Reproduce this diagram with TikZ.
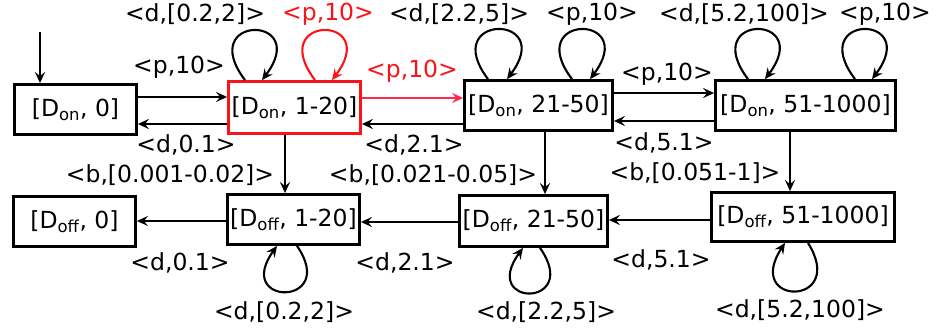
\documentclass[tikz,border=0pt]{standalone}
\usepackage{fontspec}
\setmainfont{DejaVu Sans}
\usetikzlibrary{arrows.meta}
\definecolor{hired}{RGB}{250,20,25}
\definecolor{hiedge}{RGB}{255,40,80}
\newcommand\subx[1]{\textsubscript{#1}}
\tikzset{
  statebox/.style={draw=black,line width=2.8pt,fill=white,inner sep=0pt,font=\fontsize{23.5}{27}\selectfont},
  lbl/.style={font=\fontsize{23.5}{28}\selectfont,inner sep=0pt},
  tr/.style={line width=2.1pt,-{Stealth[length=11pt,width=10pt,inset=4pt]}},
}
\begin{document}
\begin{tikzpicture}[x=1pt,y=-1pt]
\useasboundingbox (0,0) rectangle (936,336);
% states
\node[statebox,minimum width=122pt,minimum height=50pt] (on0) at (75.5,109.5) {[D\subx{on}, 0]};
\node[statebox,draw=hired,minimum width=132pt,minimum height=52pt] (on1) at (294.5,107.5) {[D\subx{on}, 1-20]};
\node[statebox,minimum width=148pt,minimum height=50pt] (on21) at (538.5,105.5) {[D\subx{on}, 21-50]};
\node[statebox,minimum width=180pt,minimum height=50pt] (on51) at (805.5,105.5) {[D\subx{on}, 51-1000]};
\node[statebox,minimum width=122pt,minimum height=50pt] (off0) at (74.5,221.5) {[D\subx{off}, 0]};
\node[statebox,minimum width=132pt,minimum height=50pt] (off1) at (293.5,219.5) {[D\subx{off}, 1-20]};
\node[statebox,minimum width=148pt,minimum height=51pt] (off21) at (533.5,221) {[D\subx{off}, 21-50]};
\node[statebox,minimum width=183pt,minimum height=49pt] (off51) at (803,217) {[D\subx{off}, 51-1000]};
% initial
\coordinate (init) at (40,32);
\draw[tr] (init) -- ([xshift=-35.5pt]on0.north);
% top row transitions
\draw[tr] ([yshift=12.5pt]on0.east) -- ([yshift=10.5pt]on1.west);
\draw[tr] ([yshift=-16.5pt]on1.west) -- ([yshift=-14.5pt]on0.east);
\draw[tr,hiedge] ([yshift=9.5pt]on1.east) -- ([yshift=7.5pt]on21.west);
\draw[tr] ([yshift=-18.5pt]on21.west) -- ([yshift=-16.5pt]on1.east);
\draw[tr] ([yshift=12.5pt]on21.east) -- ([yshift=12.5pt]on51.west);
\draw[tr] ([yshift=-15.5pt]on51.west) -- ([yshift=-15.5pt]on21.east);
% vertical transitions
\draw[tr] ([xshift=-9.5pt]on1.south) -- ([xshift=-8.5pt]off1.north);
\draw[tr] ([xshift=6.5pt]on21.south) -- ([xshift=11.5pt]off21.north);
\draw[tr] ([xshift=-15.5pt]on51.south) -- ([xshift=-13pt]off51.north);
% bottom row transitions
\draw[tr] ([yshift=-1.5pt]off1.west) -- ([yshift=0.5pt]off0.east);
\draw[tr] ([yshift=-1pt]off21.west) -- ([yshift=-2.5pt]off1.east);
\draw[tr] ([yshift=-3pt]off51.west) -- ([yshift=1pt]off21.east);
% top loops
\draw[tr] ([xshift=-49.5pt]on1.north) .. controls +(-50,-66) and +(50,-66) .. ([xshift=-32.5pt]on1.north);
\draw[tr,hired] ([xshift=20.5pt]on1.north) .. controls +(-50,-66) and +(50,-66) .. ([xshift=37.5pt]on1.north);
\draw[tr] ([xshift=-50.5pt]on21.north) .. controls +(-50,-66) and +(50,-66) .. ([xshift=-31.5pt]on21.north);
\draw[tr] ([xshift=33.5pt]on21.north) .. controls +(-50,-66) and +(50,-66) .. ([xshift=51.5pt]on21.north);
\draw[tr] ([xshift=-57.5pt]on51.north) .. controls +(-50,-66) and +(50,-66) .. ([xshift=-40.5pt]on51.north);
\draw[tr] ([xshift=49.5pt]on51.north) .. controls +(-50,-66) and +(50,-66) .. ([xshift=66.5pt]on51.north);
% bottom loops
\draw[tr] ([xshift=3.5pt]off1.south) .. controls +(42,61) and +(-44,61) .. ([xshift=-16.5pt]off1.south);
\draw[tr] ([xshift=6.5pt]off21.south) .. controls +(42,60) and +(-44,60) .. ([xshift=-10.5pt]off21.south);
\draw[tr] ([xshift=5pt]off51.south) .. controls +(40,64) and +(-42,64) .. ([xshift=-18pt]off51.south);
% labels top
\node[lbl] (l1) at (195,14) {<d,[0.2,2]>};
\node[lbl,text=hired] (l2) at (328,14) {<p,10>};
\node[lbl] (l3) at (459,14) {<d,[2.2,5]>};
\node[lbl] (l4) at (592,14) {<p,10>};
\node[lbl] (l5) at (744,14) {<d,[5.2,100]>};
\node[lbl] (l6) at (885,14) {<p,10>};
% labels middle row
\node[lbl] (l7) at (179,67) {<p,10>};
\node[lbl,text=hired] (l8) at (412,71) {<p,10>};
\node[lbl] (l9) at (667,74) {<p,10>};
\node[lbl] (l10) at (186,145) {<d,0.1>};
\node[lbl] (l11) at (414,145) {<d,2.1>};
\node[lbl] (l12) at (664,143) {<d,5.1>};
\node[lbl] (l13) at (170,175) {<b,[0.001-0.02]>};
\node[lbl] (l14) at (433,175) {<b,[0.021-0.05]>};
\node[lbl] (l15) at (695,173) {<b,[0.051-1]>};
% labels bottom
\node[lbl] (l16) at (180,263) {<d,0.1>};
\node[lbl] (l17) at (405,263) {<d,2.1>};
\node[lbl] (l18) at (661,260) {<d,5.1>};
\node[lbl] (l19) at (284,312) {<d,[0.2,2]>};
\node[lbl] (l20) at (546,312) {<d,[2.2,5]>};
\node[lbl] (l21) at (800,310) {<d,[5.2,100]>};
\end{tikzpicture}
\end{document}
